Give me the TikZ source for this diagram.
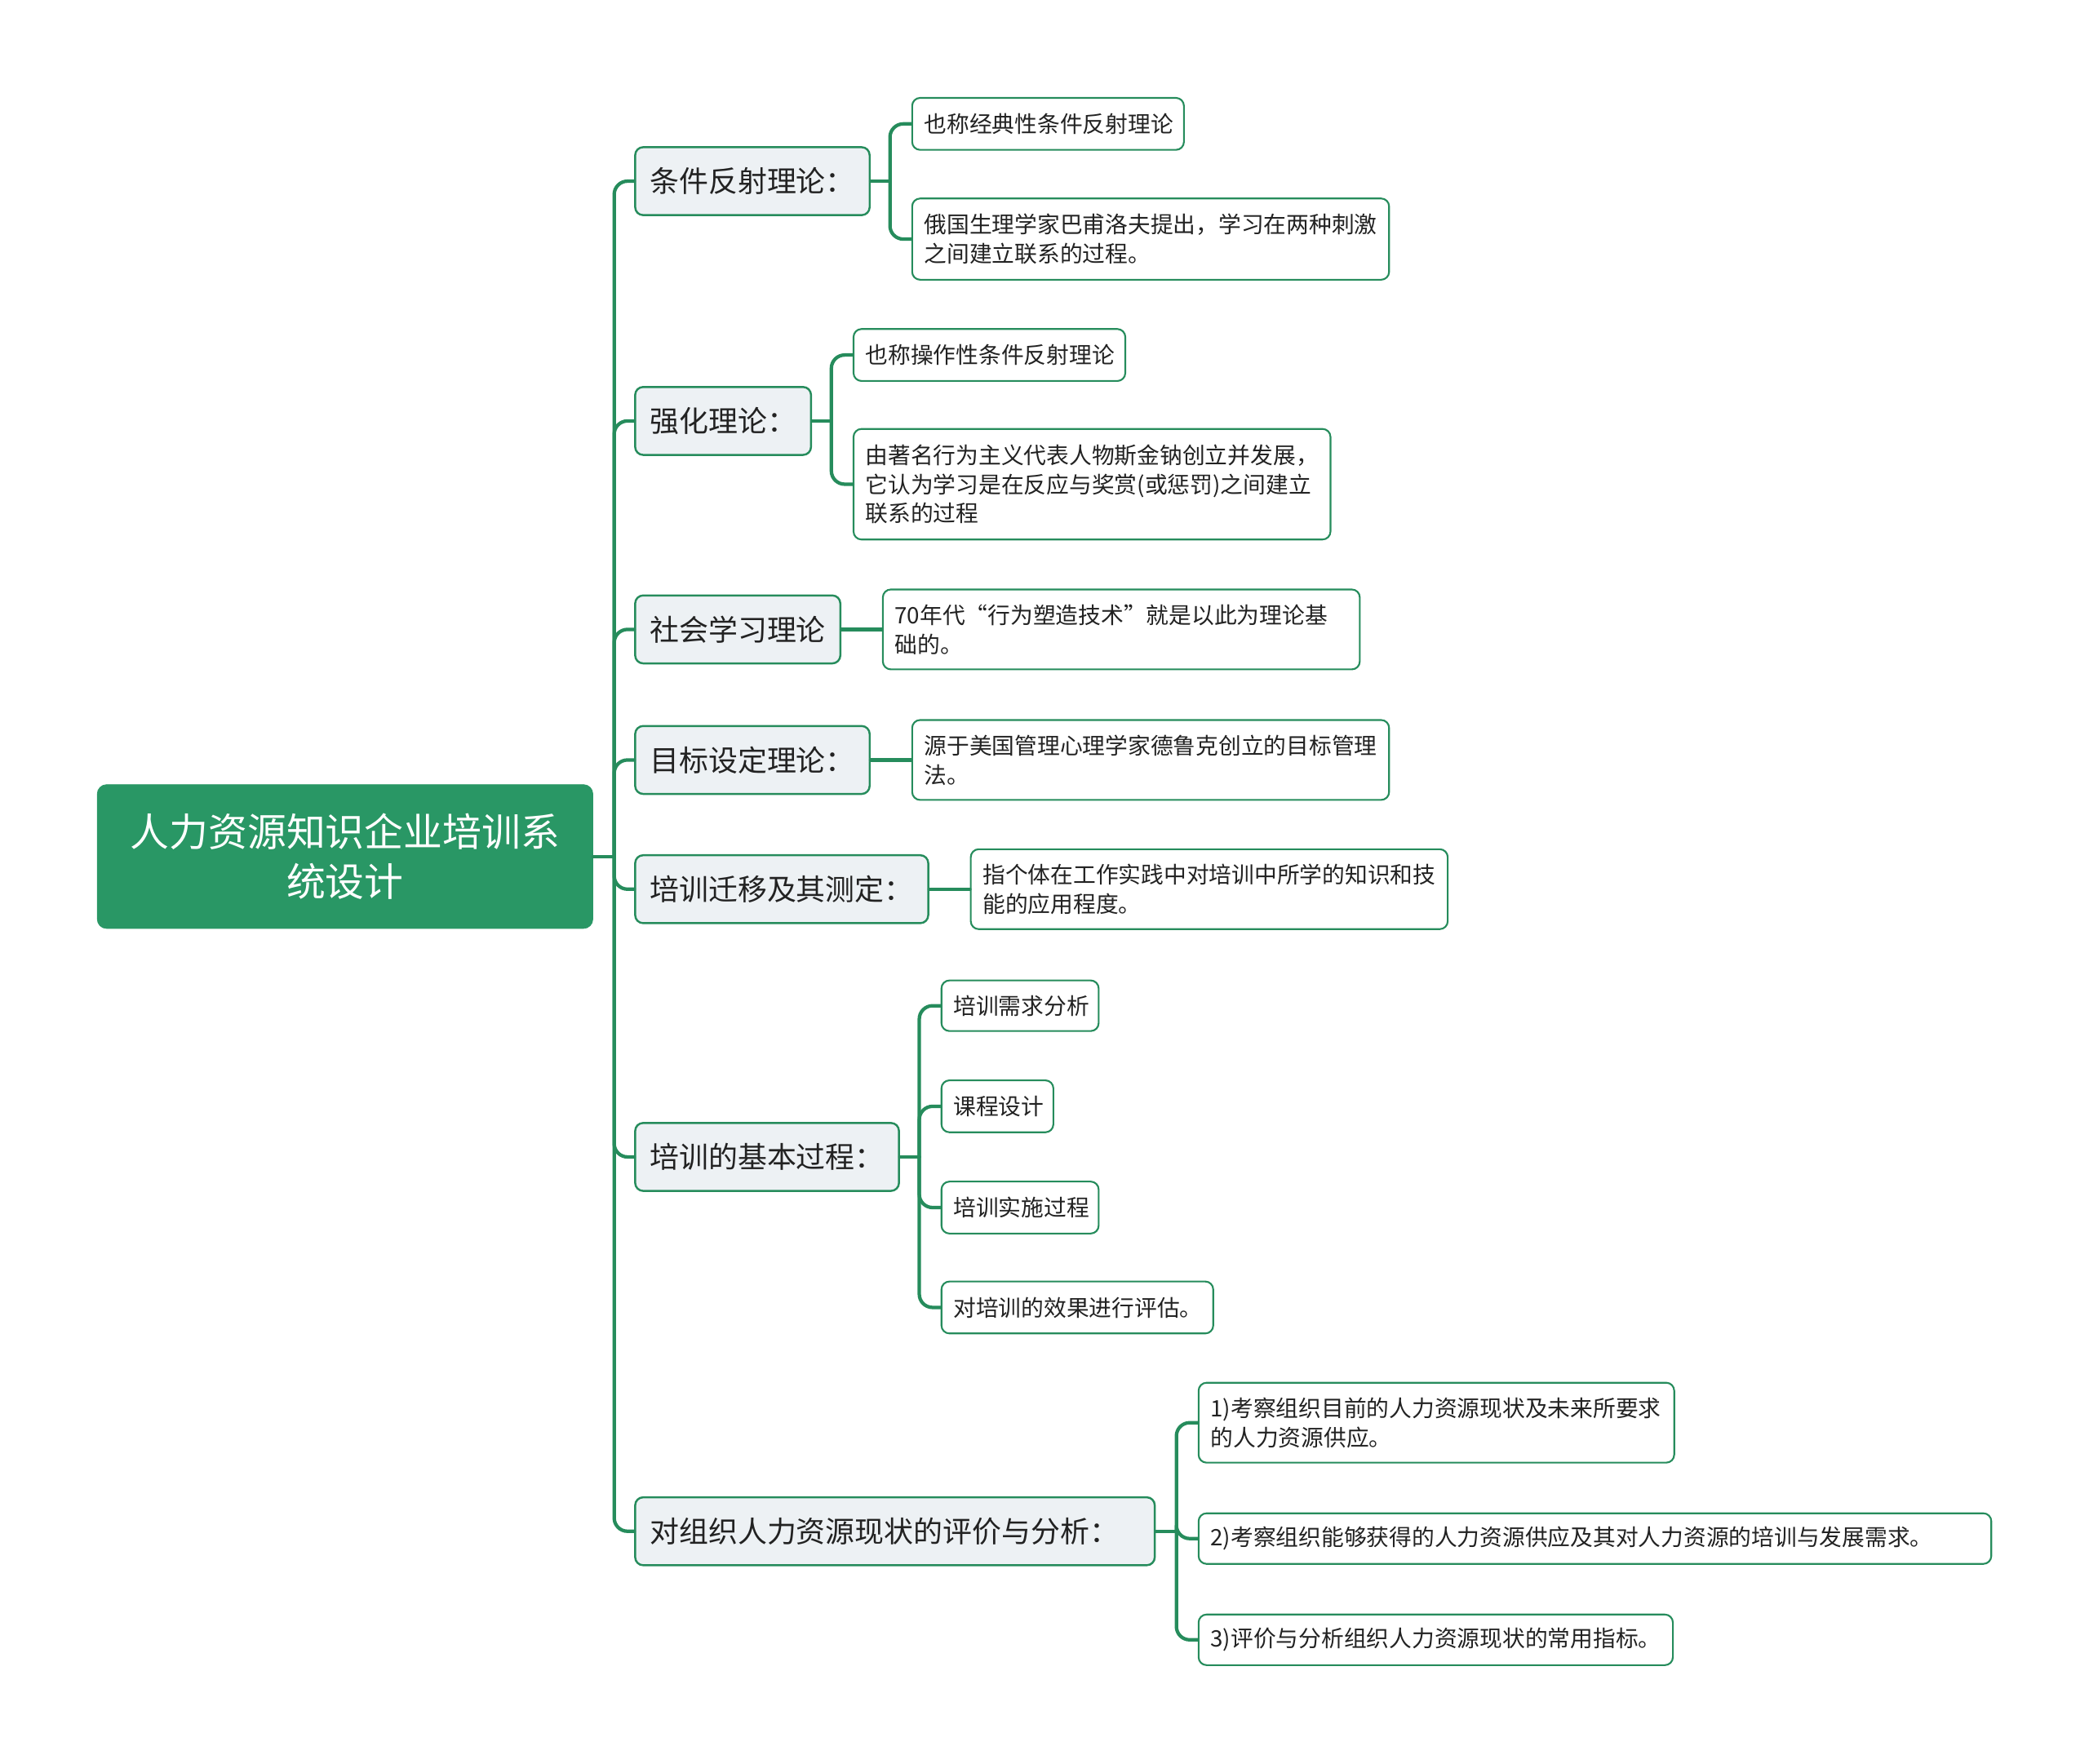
\documentclass[tikz,border=0pt]{standalone}
\usepackage{fontspec}
\setmainfont{Noto Sans CJK SC}
\definecolor{rootgreen}{RGB}{41,151,101}
\definecolor{lgreen}{RGB}{38,140,92}
\definecolor{lonefill}{RGB}{237,241,244}
\definecolor{txt}{RGB}{34,34,34}
\begin{document}
\begin{tikzpicture}[x=1pt,y=-1pt,
  rootbox/.style={fill=rootgreen, draw=rootgreen, rounded corners=7pt, text=white, align=center,
    minimum width=372pt, minimum height=108pt, inner sep=0pt, font=\fontsize{29.3pt}{37.5pt}\selectfont},
  lone/.style={fill=lonefill, draw=lgreen, line width=1.5pt, rounded corners=6pt, anchor=west,
    minimum height=51pt, inner xsep=11pt, inner ysep=0pt, align=left, text=txt,
    font=\fontsize{22pt}{28pt}\selectfont},
  ltwo/.style={fill=white, draw=lgreen, line width=1.3pt, rounded corners=6pt, anchor=west,
    inner xsep=9pt, inner ysep=0pt, align=left, text=txt,
    font=\fontsize{17pt}{22pt}\selectfont},
  conn/.style={draw=lgreen, line width=2.6pt, rounded corners=10pt, line cap=round}]
\useasboundingbox (0,0) rectangle (1568,1323.7);

% root
\node[rootbox] (root) at (259,643) {人力资源知识企业培训系\\统设计};

% level 1
\node[lone, text width=154pt] (c1) at (476,136) {条件反射理论：};
\node[lone, text width=110pt] (c2) at (476,316) {强化理论：};
\node[lone, text width=132pt] (c3) at (476,472.5) {社会学习理论};
\node[lone, text width=154pt] (c4) at (476,570.5) {目标设定理论：};
\node[lone, text width=198pt] (c5) at (476,667.5) {培训迁移及其测定：};
\node[lone, text width=176pt] (c6) at (476,868.5) {培训的基本过程：};
\node[lone, text width=368pt] (c7) at (476,1149.5) {对组织人力资源现状的评价与分析：};

% level 2
\node[ltwo, text width=186pt, minimum height=39pt] (d1a) at (684,93) {也称经典性条件反射理论};
\node[ltwo, text width=340pt, minimum height=61pt] (d1b) at (684,179.5) {俄国生理学家巴甫洛夫提出，学习在两种刺激\\之间建立联系的过程。};
\node[ltwo, text width=186pt, minimum height=39pt] (d2a) at (640,266.5) {也称操作性条件反射理论};
\node[ltwo, text width=340pt, minimum height=83pt] (d2b) at (640,363.5) {由著名行为主义代表人物斯金钠创立并发展，\\它认为学习是在反应与奖赏(或惩罚)之间建立\\联系的过程};
\node[ltwo, text width=340pt, minimum height=60pt] (d3a) at (662,472.5) {70年代“行为塑造技术”就是以此为理论基\\础的。};
\node[ltwo, text width=340pt, minimum height=60pt] (d4a) at (684,570.5) {源于美国管理心理学家德鲁克创立的目标管理\\法。};
\node[ltwo, text width=340pt, minimum height=60pt] (d5a) at (728,667.5) {指个体在工作实践中对培训中所学的知识和技\\能的应用程度。};
\node[ltwo, text width=100pt, minimum height=38pt] (d6a) at (706,755) {培训需求分析};
\node[ltwo, text width=66pt, minimum height=39pt] (d6b) at (706,830.5) {课程设计};
\node[ltwo, text width=100pt, minimum height=39pt] (d6c) at (706,906.5) {培训实施过程};
\node[ltwo, text width=186pt, minimum height=39pt] (d6d) at (706,981.5) {对培训的效果进行评估。};
\node[ltwo, text width=339pt, minimum height=60pt] (d7a) at (899,1068) {1)考察组织目前的人力资源现状及未来所要求\\的人力资源供应。};
\node[ltwo, text width=577pt, minimum height=38pt] (d7b) at (899,1155) {2)考察组织能够获得的人力资源供应及其对人力资源的培训与发展需求。};
\node[ltwo, text width=338pt, minimum height=38pt] (d7c) at (899,1231) {3)评价与分析组织人力资源现状的常用指标。};

% trunk
\coordinate (t) at (461,643);
\draw[conn] (root.east) -- (t);
\foreach \c in {c1,c2,c3,c4,c5,c6,c7} \draw[conn] (t) |- (\c.west);

% group buses
\coordinate (b1) at (668,136);
\draw[conn] (c1.east) -- (b1);
\foreach \d in {d1a,d1b} \draw[conn] (b1) |- (\d.west);

\coordinate (b2) at (624,316);
\draw[conn] (c2.east) -- (b2);
\foreach \d in {d2a,d2b} \draw[conn] (b2) |- (\d.west);

\draw[conn] (c3.east) -- (d3a.west);
\draw[conn] (c4.east) -- (d4a.west);
\draw[conn] (c5.east) -- (d5a.west);

\coordinate (b6) at (690,868.5);
\draw[conn] (c6.east) -- (b6);
\foreach \d in {d6a,d6b,d6c,d6d} \draw[conn] (b6) |- (\d.west);

\coordinate (b7) at (883,1149.5);
\draw[conn] (c7.east) -- (b7);
\foreach \d in {d7a,d7b,d7c} \draw[conn] (b7) |- (\d.west);
\end{tikzpicture}
\end{document}
